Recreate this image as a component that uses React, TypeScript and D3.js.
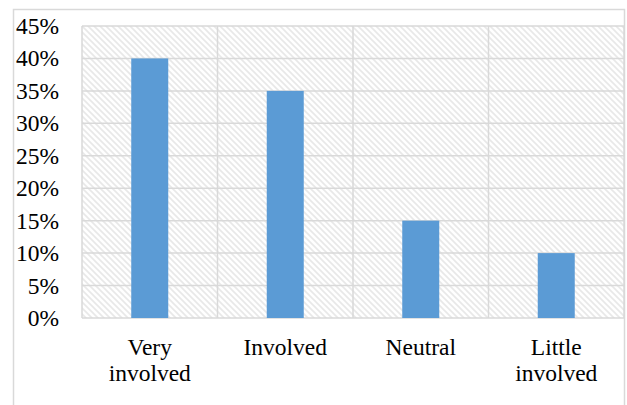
import React from "react";
import * as d3 from "d3";

const categories = [["Very", "involved"], ["Involved"], ["Neutral"], ["Little", "involved"]];
const shares = [0.4, 0.35, 0.15, 0.1];
const yTicks = [0, 0.05, 0.1, 0.15, 0.2, 0.25, 0.3, 0.35, 0.4, 0.45];

const width = 627,
  height = 405;
const margin = { top: 26, right: 3, bottom: 87, left: 82 };
const innerW = width - margin.left - margin.right;
const innerH = height - margin.top - margin.bottom;

const SERIF = "Times New Roman";

const App: React.FC = () => {
  const x = d3
    .scaleBand<number>()
    .domain(d3.range(categories.length))
    .range([0, innerW]);
  const y = d3.scaleLinear().domain([0, 0.45]).range([innerH, 0]);
  const edges = d3.range(categories.length + 1).map((i) => (i < categories.length ? x(i)! : innerW));
  const barW = 37;
  const fmt = d3.format(".0%");

  return (
    <svg
      width={width}
      height={height}
      fontFamily={SERIF}
      style={{ position: "absolute", left: 0, top: 0, fontFamily: SERIF }}
    >
      <defs>
        <pattern id="hatch" patternUnits="userSpaceOnUse" width={6} height={6}>
          <rect width={6} height={6} fill="#fff" />
          <path d="M-1,-1 L7,7 M-1,5 L1,7 M5,-1 L7,1" stroke="#e8e8e8" strokeWidth={1.6} />
        </pattern>
      </defs>
      {/* outer frame */}
      <rect x={13.5} y={9.5} width={611} height={400} fill="#fff" stroke="#d9d9d9" strokeWidth={1.5} />
      <g transform={`translate(${margin.left},${margin.top})`}>
        <rect width={innerW} height={innerH} fill="url(#hatch)" />
        {yTicks.map((t) => (
          <line key={"h" + t} x1={0} x2={innerW} y1={y(t)} y2={y(t)} stroke="#d9d9d9" strokeWidth={1.5} />
        ))}
        {edges.map((e) => (
          <line key={"v" + e} x1={e} x2={e} y1={0} y2={innerH} stroke="#d9d9d9" strokeWidth={1.5} />
        ))}
        {shares.map((s, i) => (
          <rect
            key={i}
            x={x(i)! + x.bandwidth() / 2 - barW / 2}
            y={y(s)}
            width={barW}
            height={innerH - y(s)}
            fill="#5b9bd5"
          />
        ))}
      </g>
      {yTicks.map((t) => (
        <text
          key={"t" + t}
          x={59}
          y={margin.top + y(t) + 8}
          textAnchor="end"
          fontFamily={SERIF}
          fontSize={23.5}
        >
          {fmt(t)}
        </text>
      ))}
      {categories.map((lines, i) => (
        <text
          key={"c" + i}
          y={margin.top + innerH + 37}
          textAnchor="middle"
          fontFamily={SERIF}
          fontSize={23.5}
        >
          {lines.map((l, j) => (
            <tspan key={j} x={margin.left + x(i)! + x.bandwidth() / 2} dy={j === 0 ? 0 : 26}>
              {l}
            </tspan>
          ))}
        </text>
      ))}
    </svg>
  );
};

export default App;
